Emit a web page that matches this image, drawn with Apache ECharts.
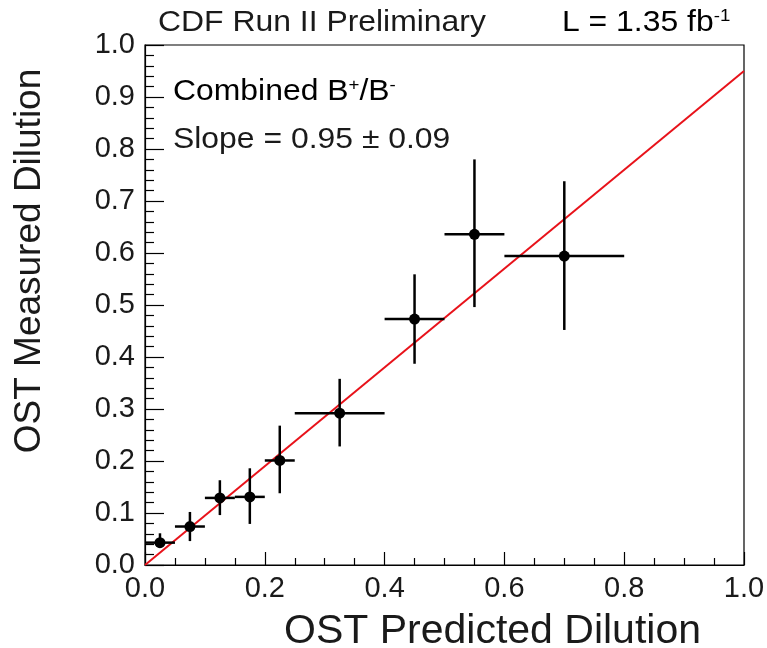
<!DOCTYPE html>
<html><head><meta charset="utf-8">
<script src="https://cdn.jsdelivr.net/npm/echarts@6/dist/echarts.min.js"></script>
<style>html,body{margin:0;padding:0;background:#fff}#c{width:767px;height:648px}</style>
</head><body><div id="c"></div>
<script>
const xCenter = [0.025, 0.075, 0.125, 0.175, 0.225, 0.325, 0.45, 0.55, 0.70];
const yValue  = [0.043, 0.074, 0.129, 0.131, 0.201, 0.292, 0.473, 0.636, 0.594];
const xLow    = [0.000, 0.050, 0.100, 0.150, 0.200, 0.250, 0.40, 0.50, 0.60];
const xHigh   = [0.050, 0.100, 0.150, 0.200, 0.250, 0.400, 0.50, 0.60, 0.80];
const yLow    = [0.033, 0.046, 0.096, 0.079, 0.138, 0.228, 0.387, 0.496, 0.452];
const yHigh   = [0.061, 0.102, 0.163, 0.186, 0.268, 0.358, 0.559, 0.780, 0.738];
const fitLine = [[0, 0], [1, 0.95]];
const xTicks = [0, 0.2, 0.4, 0.6, 0.8, 1.0];
const yTicks = [0, 0.1, 0.2, 0.3, 0.4, 0.5, 0.6, 0.7, 0.8, 0.9, 1.0];

const pts = xCenter.map((x, i) => [x, yValue[i], xLow[i], xHigh[i], yLow[i], yHigh[i]]);
const font = '"Liberation Sans", Arial, Helvetica, sans-serif';
const txt = '#1a1a1a';

const chart = echarts.init(document.getElementById('c'), null, {renderer: 'canvas'});
chart.setOption({
  animation: false,
  backgroundColor: '#fff',
  grid: {left: 145, right: 23, top: 45, bottom: 83, outerBoundsMode: 'none', containLabel: false,
         show: true, borderColor: '#000', borderWidth: 1.2, backgroundColor: 'transparent'},
  xAxis: {
    type: 'value', min: xTicks[0], max: xTicks[xTicks.length - 1], interval: 0.2,
    name: 'OST Predicted Dilution', nameLocation: 'middle', nameGap: 46,
    nameTextStyle: {fontFamily: font, fontSize: 41, color: txt, align: 'center', padding: [0, 0, 0, 96]},
    axisLine: {lineStyle: {color: '#000', width: 1.2}},
    axisTick: {inside: true, length: 13, lineStyle: {color: '#000', width: 1.2}},
    minorTick: {show: true, splitNumber: 4, length: 7, lineStyle: {color: '#000', width: 1.2}},
    splitLine: {show: false},
    axisLabel: {fontFamily: font, fontSize: 29, color: txt, margin: 9, formatter: v => v.toFixed(1)}
  },
  yAxis: {
    type: 'value', min: yTicks[0], max: yTicks[yTicks.length - 1], interval: 0.1,
    name: 'OST Measured Dilution', nameLocation: 'middle', nameGap: 97,
    nameTextStyle: {fontFamily: font, fontSize: 37, color: txt, padding: [0, 0, 0, 88]},
    axisLine: {lineStyle: {color: '#000', width: 1.2}},
    axisTick: {inside: true, length: 19, lineStyle: {color: '#000', width: 1.2}},
    minorTick: {show: true, splitNumber: 5, length: 9, lineStyle: {color: '#000', width: 1.2}},
    splitLine: {show: false},
    axisLabel: {fontFamily: font, fontSize: 29, color: txt, margin: 10, formatter: v => v.toFixed(1)}
  },
  series: [
    {
      type: 'line', data: fitLine, symbol: 'none', z: 3,
      lineStyle: {color: '#e8121a', width: 2}
    },
    {
      type: 'custom', z: 4, data: pts,
      renderItem: (params, api) => {
        const c = api.coord([api.value(0), api.value(1)]);
        const l = api.coord([api.value(2), api.value(1)]);
        const r = api.coord([api.value(3), api.value(1)]);
        const b = api.coord([api.value(0), api.value(4)]);
        const t = api.coord([api.value(0), api.value(5)]);
        const st = {stroke: '#000', lineWidth: 2.5};
        return {type: 'group', children: [
          {type: 'line', shape: {x1: l[0], y1: l[1], x2: r[0], y2: r[1]}, style: st},
          {type: 'line', shape: {x1: b[0], y1: b[1], x2: t[0], y2: t[1]}, style: st},
          {type: 'circle', shape: {cx: c[0], cy: c[1], r: 5.5}, style: {fill: '#000'}}
        ]};
      }
    }
  ],
  graphic: [
    {type: 'text', x: 158, y: 23, scaleX: 1.1, style: {text: 'CDF Run II Preliminary', font: '29px ' + font, fill: txt, verticalAlign: 'middle'}},
    {type: 'text', x: 562, y: 23, scaleX: 1.1, style: {
      text: '{n|L = 1.35 fb}{s|-1}', verticalAlign: 'middle',
      rich: {n: {fontFamily: font, fontSize: 29, color: txt},
             s: {fontFamily: font, fontSize: 17, color: txt, padding: [0, 0, 14, 0]}}
    }},
    {type: 'text', x: 173, y: 92, scaleX: 1.1, style: {
      text: '{n|Combined B}{s|+}{n|/B}{s|-}', verticalAlign: 'middle',
      rich: {n: {fontFamily: font, fontSize: 29, color: txt},
             s: {fontFamily: font, fontSize: 17, color: txt, padding: [0, 0, 14, 0]}}
    }},
    {type: 'text', x: 173, y: 140, scaleX: 1.1, style: {text: 'Slope = 0.95 \u00b1 0.09', font: '29px ' + font, fill: txt, verticalAlign: 'middle'}}
  ]
});
</script></body></html>
